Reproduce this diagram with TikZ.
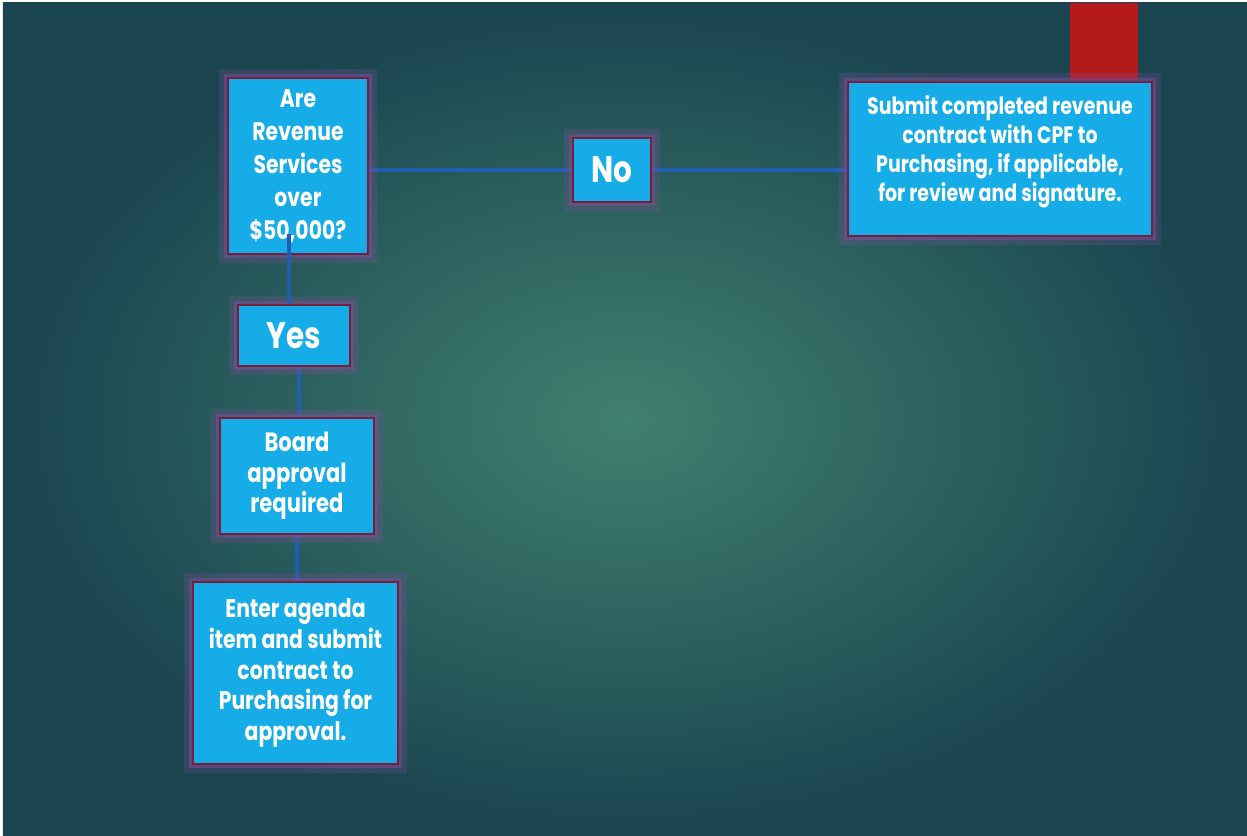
\documentclass[tikz,border=0pt]{standalone}
\usepackage{fontspec}
\setmainfont{Poppins}[FakeStretch=0.8]
\usetikzlibrary{positioning,backgrounds}
\definecolor{boxblue}{RGB}{22,172,232}
\definecolor{rim}{RGB}{120,30,60}
\definecolor{haze}{RGB}{130,80,155}
\definecolor{wire}{RGB}{30,95,175}
\definecolor{tealin}{RGB}{64,128,110}
\definecolor{tealout}{RGB}{26,68,80}
\definecolor{tab}{RGB}{180,25,25}

\tikzset{
  stepbox/.style={rectangle, fill=boxblue, draw=rim, line width=0.9pt, text=white,
    align=center, inner sep=2pt,
    preaction={draw=haze, line width=10pt, opacity=0.25},
    preaction={draw=haze, line width=5pt, opacity=0.45}},
  answer/.style={stepbox, font=\bfseries\fontsize{21}{24}\selectfont},
  wire/.style={draw=wire, line width=2.2pt},
}

\begin{document}
\begin{tikzpicture}
% decision and outcomes
\node[stepbox, minimum width=2.8cm, minimum height=3.52cm,
  font=\bfseries\fontsize{14.5}{18.7}\selectfont] (q) at (5.96,13.40)
  {Are\\Revenue\\Services\\over\\\$50,000?};
\node[answer, minimum width=1.56cm, minimum height=1.28cm] (no) at (12.24,13.32) {No};
\node[stepbox, minimum width=6.08cm, minimum height=3.08cm,
  font=\bfseries\fontsize{13.5}{16.5}\selectfont] (submit) at (20.0,13.54)
  {Submit completed revenue\\contract with CPF to\\Purchasing, if applicable,\\for review and signature.\\[-1.6mm]\mbox{}};
\node[answer, minimum width=2.24cm, minimum height=1.22cm] (yes) at (5.88,10.01) {Yes};
\node[stepbox, minimum width=3.08cm, minimum height=2.32cm,
  font=\bfseries\fontsize{15}{17.5}\selectfont] (board) at (5.94,7.20)
  {Board\\approval\\required};
\node[stepbox, minimum width=4.10cm, minimum height=3.64cm,
  font=\bfseries\fontsize{14.5}{17.5}\selectfont] (enter) at (5.91,3.26)
  {Enter agenda\\item and submit\\contract to\\Purchasing for\\approval.};

% slide backdrop and links behind the boxes
\begin{scope}[on background layer]
\fill[white] (0,0) rectangle (24.94,16.72);
\shade[inner color=tealin, outer color=tealout] (0.06,0) rectangle (24.94,16.66);
\fill[tab] (21.40,15.12) rectangle (22.76,16.66);
\draw[wire] (q.east |- no.west) -- (no.west);
\draw[wire] (no.east) -- (no.east -| submit.west);
\draw[wire] ([xshift=3pt]yes.south) -- ([xshift=3pt]yes.south |- board.north);
\draw[wire] (board.south) -- (board.south |- enter.north);
\end{scope}
% this one runs into the question box
\draw[wire] ([xshift=-5pt,yshift=12pt]q.south) -- ([xshift=-5pt]q.south |- yes.north);
\end{tikzpicture}
\end{document}
